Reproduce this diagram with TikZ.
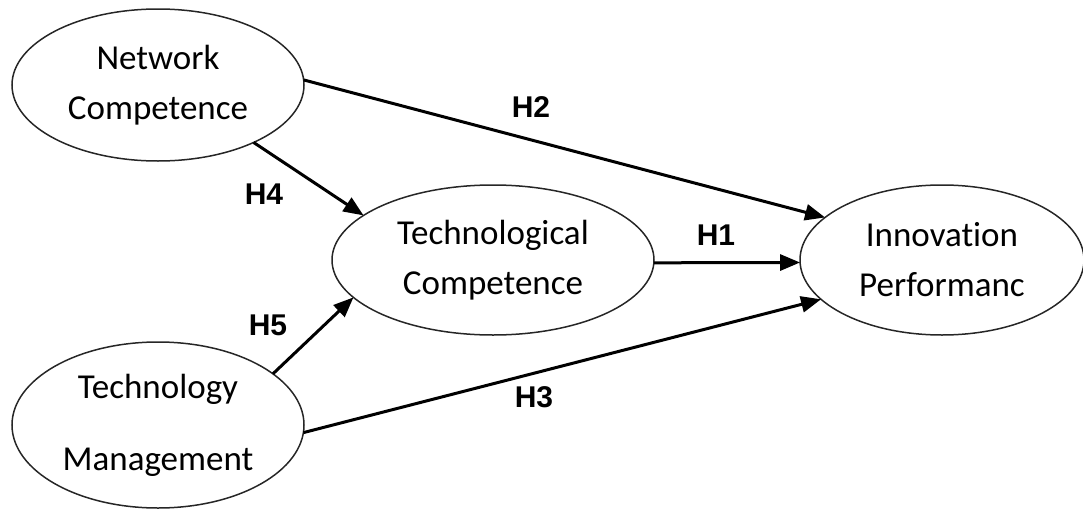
\documentclass[tikz,border=0pt]{standalone}
\usepackage{fontspec}
\setmainfont{Carlito}[Ligatures=NoCommon]
\newfontfamily\labelfont{Liberation Sans}
\usetikzlibrary{arrows.meta,shapes.geometric}
\tikzset{
  construct/.style={draw=black!85, line width=0.75pt, ellipse, inner sep=0pt, outer sep=0pt,
    align=center, font=\fontsize{17.5}{25}\selectfont},
  path/.style={line width=1.5pt, -{Triangle[length=10pt,width=8pt]}},
  hyp/.style={font=\labelfont\bfseries\fontsize{15}{18}\selectfont, inner sep=0pt}
}
\begin{document}
\begin{tikzpicture}[x=0.5pt,y=-0.5pt]
\useasboundingbox (0,0) rectangle (1083,509);
\node[construct, minimum width=146pt, minimum height=76pt] (net) at (158,85) {Network\\Competence};
\node[construct, minimum width=161pt, minimum height=75pt] (tc) at (493,260) {Technological\\Competence};
\node[construct, minimum width=142pt, minimum height=75pt] (inn) at (942,260) {Innovation\\Performanc};
\node[construct, minimum width=146pt, minimum height=83pt] (tm) at (158,425) {Technology\\[11pt]Management};
\draw[path] (net.2) -- (inn.160);
\draw[path] (net.-31) -- (tc.161.6);
\draw[path] (tc.-1) -- (inn.181);
\draw[path] (tm.24.7) -- (tc.195);
\draw[path] (tm.-3) -- (inn.198.4);
\node[hyp] (h2) at (531,107) {H2};
\node[hyp] (h4) at (264,194) {H4};
\node[hyp] (h1) at (716,235) {H1};
\node[hyp] (h5) at (268,325) {H5};
\node[hyp] (h3) at (534,397) {H3};
\end{tikzpicture}
\end{document}
